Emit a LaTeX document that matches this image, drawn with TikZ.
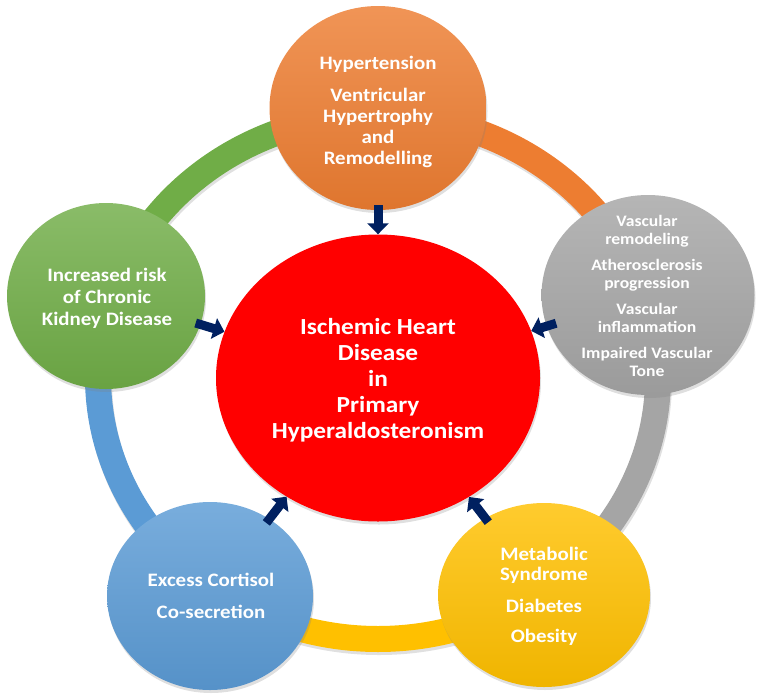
\documentclass[tikz,border=0pt]{standalone}
\usepackage{fontspec}
\setmainfont[FakeStretch=1.1]{Carlito}
\usetikzlibrary{shapes.geometric,arrows.meta,shadows}
\definecolor{cOrange}{HTML}{ED7D31}
\definecolor{cGray}{HTML}{A5A5A5}
\definecolor{cYellow}{HTML}{FFC000}
\definecolor{cBlue}{HTML}{5B9BD5}
\definecolor{cGreen}{HTML}{70AD47}
\definecolor{cRed}{HTML}{FF0000}
\definecolor{cNavy}{HTML}{002060}
\tikzset{
  bubble/.style={ellipse, inner sep=0pt, top color=#1!82!white, bottom color=#1!94!black,
    drop shadow={opacity=0.25, shadow xshift=1pt, shadow yshift=-3pt}},
  band/.style={line width=26pt, draw=#1},
  txt/.style={text=white, align=center, inner sep=0pt},
  arr/.style={draw=cNavy, line width=9pt, -{Triangle[width=21pt,length=11pt]}, shorten <=-5pt},
}
\begin{document}
\begin{tikzpicture}[x=1pt,y=-1pt]
\useasboundingbox (0,0) rectangle (765,699);
% ring shadow
\draw[line width=26pt, black, opacity=0.12] (379,380) ellipse [x radius=280, y radius=262];
% ring
\draw[band=cOrange] (378,377) ++(-90:280 and 262) arc[start angle=-90, end angle=-18, x radius=280, y radius=262];
\draw[band=cGray] (378,377) ++(-18:280 and 262) arc[start angle=-18, end angle=54, x radius=280, y radius=262];
\draw[band=cYellow] (378,377) ++(54:280 and 262) arc[start angle=54, end angle=126, x radius=280, y radius=262];
\draw[band=cBlue] (378,377) ++(126:280 and 262) arc[start angle=126, end angle=198, x radius=280, y radius=262];
\draw[band=cGreen] (378,377) ++(198:280 and 262) arc[start angle=198, end angle=270, x radius=280, y radius=262];
% nodes
\node[bubble=cOrange, minimum width=217pt, minimum height=204pt] (orange) at (378,108) {};
\node[bubble=cGray, minimum width=213pt, minimum height=200pt] (gray) at (648,295) {};
\node[bubble=cYellow, minimum width=212pt, minimum height=184pt] (yellow) at (544,595) {};
\node[bubble=cBlue, minimum width=206pt, minimum height=188pt] (blue) at (210,596) {};
\node[bubble=cGreen, minimum width=198pt, minimum height=186pt] (green) at (106,296) {};
\node[ellipse, inner sep=0pt, fill=cRed, minimum width=324pt, minimum height=287pt,
  drop shadow={opacity=0.25, shadow xshift=1pt, shadow yshift=-3pt}] (red) at (378,378) {};
% texts
\node[txt, font=\bfseries\fontsize{19}{21}\selectfont] (orangetxt) at (378,112)
  {Hypertension\\[11pt]Ventricular\\Hypertrophy\\and\\Remodelling};
\node[txt, font=\bfseries\fontsize{16}{18}\selectfont] (graytxt) at (647,296)
  {Vascular\\remodeling\\[8pt]Atherosclerosis\\progression\\[8pt]Vascular\\inflammation\\[8pt]Impaired Vascular\\Tone};
\node[txt, font=\bfseries\fontsize{19}{20}\selectfont] (yellowtxt) at (544,596)
  {Metabolic\\Syndrome\\[12pt]Diabetes\\[10pt]Obesity};
\node[txt, font=\bfseries\fontsize{19}{21}\selectfont] (bluetxt) at (211,596)
  {Excess Cortisol\\[11pt]Co-secretion};
\node[txt, font=\bfseries\fontsize{19}{22}\selectfont] (greentxt) at (107,298)
  {Increased risk\\of Chronic\\Kidney Disease};
\node[txt, font=\bfseries\fontsize{23}{26}\selectfont] (redtxt) at (378,380)
  {Ischemic Heart\\Disease\\in\\Primary\\Hyperaldosteronism};
% arrows
\draw[arr] (orange) -- (red);
\draw[arr, shorten <=-10pt] (gray) -- (red);
\draw[arr] (yellow) -- (red);
\draw[arr] (blue) -- (red);
\draw[arr] (green) -- (red);
\end{tikzpicture}
\end{document}
